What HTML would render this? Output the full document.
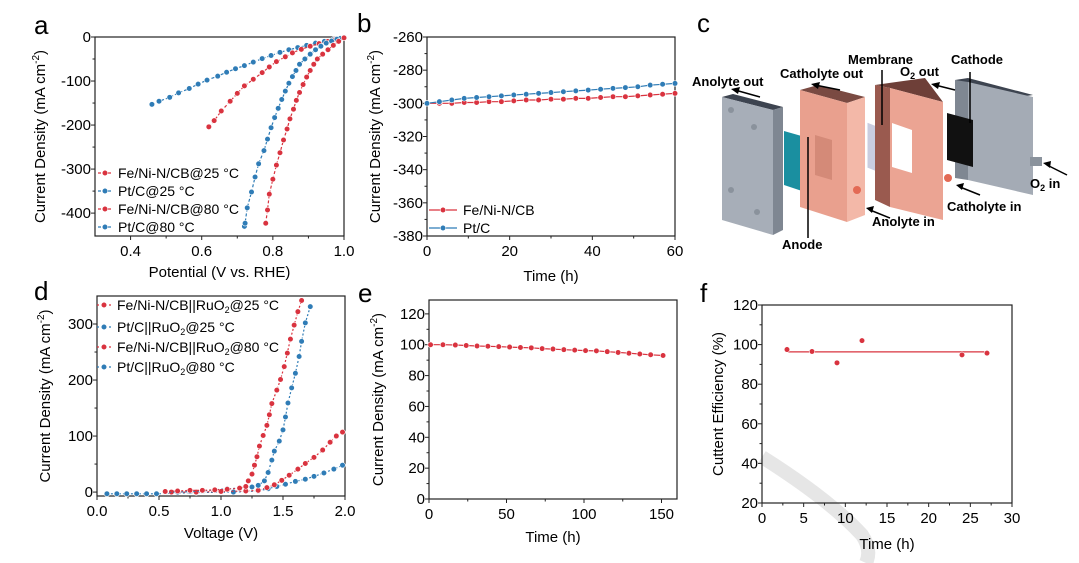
<!DOCTYPE html>
<html><head><meta charset="utf-8"><style>
body{margin:0;background:#fff;}
svg{display:block;font-family:"Liberation Sans",sans-serif;}
</style></head><body>
<svg id="fig" width="1079" height="563" viewBox="0 0 1079 563" xmlns="http://www.w3.org/2000/svg">
<!-- watermark -->
<path d="M762,457 Q830,500 862,535 Q872,550 866,563" stroke="#e6e6e6" stroke-width="14" fill="none"/>
<!-- panel c schematic -->
<g font-weight="bold" font-size="13">
  <polygon points="722,97 733,94 783,107 773,110" fill="#3d4450"/>
  <polygon points="722,97 773,110 773,235 722,220" fill="#a7aeb8"/>
  <polygon points="773,110 783,107 783,230 773,235" fill="#7f8792"/>
  <circle cx="731" cy="110" r="3" fill="#8a929c"/><circle cx="754" cy="127" r="3" fill="#8a929c"/>
  <circle cx="731" cy="190" r="3" fill="#8a929c"/><circle cx="757" cy="212" r="3" fill="#8a929c"/>
  <polygon points="784,131 805,137 805,192 784,185" fill="#1a8fa0"/>
  <polygon points="800,90 818,85 865,97 847,103" fill="#7a4a42"/>
  <polygon points="800,90 847,103 847,222 800,207" fill="#e9a08e"/>
  <polygon points="847,103 865,97 865,215 847,222" fill="#f3b8a8"/>
  <polygon points="815,135 832,140 832,180 815,175" fill="#d48a78"/>
  <circle cx="857" cy="190" r="4" fill="#e36a55"/>
  <polygon points="867,122 892,132 892,178 867,168" fill="#c9cde0" stroke="#fff"/>
  <polygon points="875,85 925,78 943,102 890,88" fill="#6e3f38"/>
  <polygon points="875,85 890,88 890,207 875,200" fill="#9a5a4f"/>
  <polygon points="890,88 943,102 943,220 890,207" fill="#eba493"/>
  <polygon points="892,123 912,130 912,173 892,167" fill="#ffffff"/>
  <circle cx="948" cy="178" r="4" fill="#e36a55"/>
  <polygon points="955,80 968,78 1033,95 1020,97" fill="#3d4450"/>
  <polygon points="955,80 968,82 968,180 955,178" fill="#7f8792"/>
  <polygon points="968,82 1033,97 1033,195 968,180" fill="#a4abb5"/>
  <polygon points="947,113 973,120 973,167 947,160" fill="#111"/>
  <rect x="1030" y="157" width="12" height="9" fill="#8a929c"/>
  <g stroke="#000" stroke-width="1.5" fill="none">
    <path d="M760,97 L735,90"/><path d="M840,90 L815,85"/><path d="M955,90 L935,85"/>
    <path d="M890,218 L870,210"/><path d="M980,195 L960,187"/><path d="M1067,175 L1047,165"/>
    <path d="M808,137 L808,238"/><path d="M882,125 L882,70"/><path d="M970,123 L970,72"/>
  </g>
  <g fill="#000">
    <polygon points="731,89 740,87 738,94"/><polygon points="811,84 820,82 818,89"/><polygon points="931,84 940,82 938,89"/>
    <polygon points="866,208 874,206 872,213"/><polygon points="956,185 964,183 962,190"/><polygon points="1043,163 1051,161 1050,168"/>
  </g>
  <text x="692" y="86">Anolyte out</text>
  <text x="780" y="78">Catholyte out</text>
  <text x="848" y="64">Membrane</text>
  <text x="900" y="76">O<tspan font-size="9" dy="3">2</tspan><tspan dy="-3"> out</tspan></text>
  <text x="951" y="64">Cathode</text>
  <text x="872" y="226">Anolyte in</text>
  <text x="947" y="211">Catholyte in</text>
  <text x="1030" y="188">O<tspan font-size="9" dy="3">2</tspan><tspan dy="-3"> in</tspan></text>
  <text x="782" y="249">Anode</text>
</g>
<g font-size="26">
  <text x="34" y="34">a</text><text x="357" y="32">b</text><text x="697" y="32">c</text>
  <text x="34" y="300">d</text><text x="358" y="302">e</text><text x="700" y="302">f</text>
</g>
</svg>
<script>
// Panel a data
const aPtC25X=[0.46,0.48,0.51,0.535,0.565,0.59,0.615,0.645,0.67,0.695,0.72,0.745,0.77,0.795,0.82,0.845,0.87,0.895,0.92,0.945,0.97,0.99,1.0];
const aPtC25Y=[-153,-146,-137,-127,-117,-107,-98,-89,-80,-72,-65,-57,-49,-42,-35,-29,-24,-19,-14,-10,-6,-3,0];
const aFe25X=[0.62,0.635,0.655,0.68,0.70,0.72,0.745,0.77,0.79,0.81,0.835,0.855,0.88,0.905,0.93,0.955,0.975,1.0];
const aFe25Y=[-204,-190,-168,-146,-128,-111,-96,-81,-68,-56,-45,-36,-28,-21,-15,-10,-6,-1];
const aPtC80X=[0.72,0.722,0.728,0.74,0.75,0.76,0.775,0.785,0.795,0.805,0.815,0.825,0.835,0.845,0.855,0.865,0.875,0.89,0.905,0.92,0.935,0.95,0.965,0.98,1.0];
const aPtC80Y=[-430,-423,-388,-352,-318,-288,-258,-232,-206,-183,-162,-142,-123,-105,-90,-76,-62,-50,-39,-29,-21,-14,-9,-5,-1];
const aFe80X=[0.78,0.785,0.79,0.8,0.81,0.82,0.83,0.84,0.848,0.858,0.866,0.875,0.885,0.895,0.905,0.915,0.925,0.94,0.955,0.97,0.985,1.0];
const aFe80Y=[-423,-393,-357,-323,-291,-263,-234,-209,-186,-164,-144,-126,-108,-91,-76,-62,-50,-39,-29,-19,-10,-2];
const aXTicks=[0.4,0.6,0.8,1.0];
const aYTicks=[0,-100,-200,-300,-400];
// Panel b data
const bTime=[0,3,6,9,12,15,18,21,24,27,30,33,36,39,42,45,48,51,54,57,60];
const bFeNi=[-300,-300,-300,-299.5,-299.5,-299,-299,-298.5,-298,-298,-297.5,-297.5,-297,-297,-296.5,-296,-296,-295.5,-295,-294.5,-294];
const bPtC=[-300,-299,-298,-297,-296.5,-296,-295.5,-295,-294.5,-294,-293.5,-293,-292.5,-292,-291.5,-291,-290.5,-290,-289,-288.5,-288];
const bXTicks=[0,20,40,60];
const bYTicks=[-260,-280,-300,-320,-340,-360,-380];
// Panel d data
const dFe80X=[0.55,0.65,0.75,0.85,0.95,1.05,1.15,1.2,1.22,1.25,1.27,1.29,1.31,1.34,1.37,1.39,1.41,1.45,1.48,1.51,1.535,1.56,1.59,1.62,1.65];
const dFe80Y=[1,2,3,3,4,5,7,10,20,32,48,63,82,101,119,138,158,182,201,224,248,273,298,322,342];
const dPt80X=[0.55,0.65,0.75,0.85,0.95,1.05,1.15,1.25,1.3,1.35,1.38,1.41,1.43,1.47,1.50,1.52,1.54,1.57,1.60,1.63,1.65,1.68,1.72];
const dPt80Y=[0,0,1,2,4,6,7,9,12,20,35,57,73,91,111,134,159,186,212,242,269,302,331];
const dFe25X=[0.6,0.8,1.0,1.2,1.3,1.37,1.43,1.49,1.55,1.62,1.68,1.75,1.82,1.88,1.93,1.98];
const dFe25Y=[0,0,1,2,3,8,13,21,30,41,51,62,75,89,100,107];
const dPt25X=[0.08,0.16,0.24,0.32,0.4,0.48,0.8,1.1,1.3,1.38,1.45,1.52,1.6,1.68,1.75,1.83,1.91,1.98];
const dPt25Y=[-3,-3,-3,-3,-3,-3,-1,0,2,6,10,14,19,23,28,34,41,48];
const dXTicks=[0.0,0.5,1.0,1.5,2.0];
const dYTicks=[0,100,200,300];
// Panel e data
const eTime=[1,9,17,24,31,38,45,52,59,66,73,80,87,94,101,108,115,122,129,136,143,151];
const eCurrent=[100,100,99.8,99.5,99.2,99,98.8,98.5,98.2,98,97.5,97.2,96.8,96.5,96.2,96,95.5,95,94.5,94,93.5,93];
const eXTicks=[0,50,100,150];
const eYTicks=[0,20,40,60,80,100,120];
// Panel f data
const fTime=[3,6,9,12,24,27];
const fEff=[97.5,96.5,90.8,102,94.8,95.7];
const fFitX=[3,27];
const fFitY=[96.3,96.3];
const fXTicks=[0,5,10,15,20,25,30];
const fYTicks=[20,40,60,80,100,120];

const NS="http://www.w3.org/2000/svg";
const svg=document.getElementById('fig');
const RED="#d9333f",BLUE="#2f7cb6";
function el(tag,attrs,parent){const e=document.createElementNS(NS,tag);for(const k in attrs)e.setAttribute(k,attrs[k]);(parent||svg).appendChild(e);return e;}
function fmt(v,d){return d!=null?v.toFixed(d):String(v);}
function axes(c){
  const g=el('g',{});
  
  
  const sx=v=>c.x0+(v-c.xmin)/(c.xmax-c.xmin)*(c.x1-c.x0);
  const sy=v=>c.y1-(v-c.ymin)/(c.ymax-c.ymin)*(c.y1-c.y0);
  const fr=el('rect',{x:c.x0,y:c.y0,width:c.x1-c.x0,height:c.y1-c.y0,fill:'none',stroke:'#222','stroke-width':1.2},g);
  
  
  c.xticks.forEach((t,i)=>{
    const x=sx(t);el('line',{x1:x,x2:x,y1:c.y1,y2:c.y1+4,stroke:'#222'},g);
    const tx=el('text',{x:x,y:c.y1+20,'text-anchor':'middle','font-size':15},g);
    tx.textContent=fmt(t,c.xd);
    
    
    if(i<c.xticks.length-1){const m=sx((t+c.xticks[i+1])/2);el('line',{x1:m,x2:m,y1:c.y1,y2:c.y1+2.5,stroke:'#222'},g);}
  });
  c.yticks.forEach((t,i)=>{
    const y=sy(t);el('line',{x1:c.x0-4,x2:c.x0,y1:y,y2:y,stroke:'#222'},g);
    const tx=el('text',{x:c.x0-4,y:y+5,'text-anchor':'end','font-size':15},g);
    tx.textContent=String(t);
    
    
    if(i<c.yticks.length-1){const m=sy((t+c.yticks[i+1])/2);el('line',{x1:c.x0-2.5,x2:c.x0,y1:m,y2:m,stroke:'#222'},g);}
  });
  const xt=el('text',{x:(c.x0+c.x1)/2,y:c.xty,'text-anchor':'middle','font-size':15},g);
  xt.textContent=c.xtitle;
  
  
  const cy=(c.y0+c.y1)/2;
  const yt=el('text',{x:c.ytx,y:cy,'text-anchor':'middle','font-size':15,transform:`rotate(-90 ${c.ytx} ${cy})`},g);
  
  
  if(c.ytitle==='cd'){yt.innerHTML='Current Density (mA cm<tspan font-size="10" dy="-6">-2</tspan><tspan dy="6">)</tspan>';}
  else yt.textContent=c.ytitle;
  return {sx,sy,g};
}
function series(ax,xs,ys,color,name,dash,mk){
  const g=el('g',{},ax.g);
  
  
  const d=xs.map((x,i)=>(i?'L':'M')+ax.sx(x).toFixed(1)+','+ax.sy(ys[i]).toFixed(1)).join(' ');
  el('path',{d:d,fill:'none',stroke:color,'stroke-width':1.2,'stroke-dasharray':dash||'none'},g);
  if(mk!==false)xs.forEach((x,i)=>{
    const c=el('circle',{cx:ax.sx(x),cy:ax.sy(ys[i]),r:2.8,fill:color,stroke:'#fff','stroke-width':0.6},g);
    
    
  });
}
function legend(parent,x,y,color,label,len,dash){
  const g=el('g',{},parent);
  
  
  el('line',{x1:x,x2:x+len,y1:y,y2:y,stroke:color,'stroke-width':1.2,'stroke-dasharray':dash||'none'},g);
  el('circle',{cx:x+len/2,cy:y,r:2.8,fill:color,stroke:'#fff','stroke-width':0.6},g);
  const t=el('text',{x:x+len+6,y:y+5,'font-size':14},g);
  t.innerHTML=label;
}
// Panel a
const A=axes({name:'panel-a-lsv',x0:95,x1:344,y0:37,y1:236,xmin:0.3,xmax:1.0,ymin:-452,ymax:0,xticks:aXTicks,xd:1,yticks:aYTicks,xtitle:'Potential (V vs. RHE)',xty:277,ytitle:'cd',ytx:45});
series(A,aPtC25X,aPtC25Y,BLUE,'series-ptc-25c','3,2');
series(A,aFe25X,aFe25Y,RED,'series-feni-25c','3,2');
series(A,aPtC80X,aPtC80Y,BLUE,'series-ptc-80c','3,2');
series(A,aFe80X,aFe80Y,RED,'series-feni-80c','3,2');
legend(A.g,98,173,RED,'Fe/Ni-N/CB@25 °C',14,'3,2');
legend(A.g,98,191,BLUE,'Pt/C@25 °C',14,'3,2');
legend(A.g,98,209,RED,'Fe/Ni-N/CB@80 °C',14,'3,2');
legend(A.g,98,227,BLUE,'Pt/C@80 °C',14,'3,2');
// Panel b
const B=axes({name:'panel-b-stability',x0:427,x1:675,y0:37,y1:236,xmin:0,xmax:60,ymin:-380,ymax:-260,xticks:bXTicks,yticks:bYTicks,xtitle:'Time (h)',xty:281,ytitle:'cd',ytx:380});
series(B,bTime,bFeNi,RED,'series-feni');
series(B,bTime,bPtC,BLUE,'series-ptc');
legend(B.g,429,210,RED,'Fe/Ni-N/CB',28);
legend(B.g,429,228,BLUE,'Pt/C',28);
// Panel d
const D=axes({name:'panel-d-polarization',x0:97,x1:345,y0:296,y1:496,xmin:0,xmax:2,ymin:-7,ymax:350,xticks:dXTicks,xd:1,yticks:dYTicks,xtitle:'Voltage (V)',xty:538,ytitle:'cd',ytx:50});
series(D,dPt25X,dPt25Y,BLUE,'series-ptc-ruo2-25c','2,2');
series(D,dFe25X,dFe25Y,RED,'series-feni-ruo2-25c','2,2');
series(D,dPt80X,dPt80Y,BLUE,'series-ptc-ruo2-80c','2,2');
series(D,dFe80X,dFe80Y,RED,'series-feni-ruo2-80c','2,2');
legend(D.g,97,305,RED,'Fe/Ni-N/CB||RuO<tspan font-size="9" dy="3">2</tspan><tspan dy="-3">@25 °C</tspan>',14,'2,2');
legend(D.g,97,327,BLUE,'Pt/C||RuO<tspan font-size="9" dy="3">2</tspan><tspan dy="-3">@25 °C</tspan>',14,'2,2');
legend(D.g,97,347,RED,'Fe/Ni-N/CB||RuO<tspan font-size="9" dy="3">2</tspan><tspan dy="-3">@80 °C</tspan>',14,'2,2');
legend(D.g,97,367,BLUE,'Pt/C||RuO<tspan font-size="9" dy="3">2</tspan><tspan dy="-3">@80 °C</tspan>',14,'2,2');
// Panel e
const E=axes({name:'panel-e-stability',x0:429,x1:677,y0:300,y1:499,xmin:0,xmax:160,ymin:0,ymax:129,xticks:eXTicks,yticks:eYTicks,xtitle:'Time (h)',xty:542,ytitle:'cd',ytx:383});
series(E,eTime,eCurrent,RED,'series-current');
// Panel f
const F=axes({name:'panel-f-efficiency',x0:762,x1:1012,y0:305,y1:503,xmin:0,xmax:30,ymin:20,ymax:120,xticks:fXTicks,yticks:fYTicks,xtitle:'Time (h)',xty:549,ytitle:'Cuttent Efficiency (%)',ytx:723});
series(F,fFitX,fFitY,RED,'fit-line',null,false);
series(F,fTime,fEff,'none','series-efficiency');
F.g.querySelectorAll('circle').forEach(c=>c.setAttribute('fill',RED));
</script>
</body></html>
